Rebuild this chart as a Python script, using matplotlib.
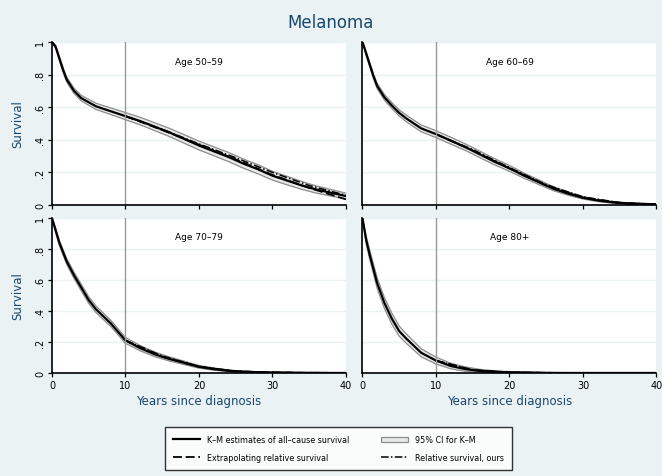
import numpy as np
import matplotlib
matplotlib.use("Agg")
import matplotlib.pyplot as plt
from matplotlib.lines import Line2D
from matplotlib.patches import Patch

BG = "#eaf2f3"
NAVY = "#1a476f"

# --- data ------------------------------------------------------------------
titles = ["Age 50\u201359", "Age 60\u201369", "Age 70\u201379", "Age 80+"]

t_km = [0, 0.5, 1, 1.5, 2, 3, 4, 5, 6, 8, 10, 12, 14, 16, 18, 20,
        22, 24, 26, 28, 30, 32, 34, 36, 38, 40]
km = [
    [1, 0.97, 0.90, 0.83, 0.77, 0.70, 0.655, 0.63, 0.605, 0.575, 0.545, 0.515,
     0.48, 0.445, 0.405, 0.365, 0.33, 0.295, 0.255, 0.22, 0.18, 0.15, 0.12,
     0.095, 0.075, 0.055],
    [1, 0.93, 0.86, 0.79, 0.73, 0.66, 0.61, 0.565, 0.53, 0.47, 0.435, 0.395,
     0.355, 0.31, 0.265, 0.225, 0.18, 0.14, 0.10, 0.07, 0.045, 0.028, 0.017,
     0.01, 0.007, 0.005],
    [1, 0.92, 0.84, 0.78, 0.72, 0.63, 0.55, 0.47, 0.41, 0.32, 0.21, 0.16,
     0.12, 0.09, 0.065, 0.04, 0.025, 0.014, 0.008, 0.005, 0.003, 0.002,
     0.001, 0.001, 0.0, 0.0],
    [1, 0.86, 0.76, 0.67, 0.58, 0.45, 0.35, 0.27, 0.22, 0.13, 0.08, 0.045,
     0.025, 0.013, 0.007, 0.004, 0.002, 0.001, 0.0, 0.0, 0.0, 0.0, 0.0,
     0.0, 0.0, 0.0],
]
# half width of the 95% CI band
ci_half = [
    [0, 0.01, 0.012, 0.015, 0.015, 0.016, 0.017, 0.018, 0.019, 0.02, 0.022,
     0.023, 0.024, 0.025, 0.026, 0.027, 0.027, 0.028, 0.028, 0.028, 0.027,
     0.026, 0.024, 0.022, 0.02, 0.018],
    [0, 0.012, 0.014, 0.015, 0.016, 0.017, 0.018, 0.019, 0.02, 0.021, 0.021,
     0.021, 0.02, 0.02, 0.019, 0.018, 0.016, 0.014, 0.012, 0.01, 0.008,
     0.006, 0.005, 0.004, 0.003, 0.003],
    [0, 0.015, 0.017, 0.018, 0.019, 0.02, 0.021, 0.021, 0.021, 0.02, 0.019,
     0.017, 0.015, 0.013, 0.011, 0.009, 0.007, 0.005, 0.004, 0.003, 0.002,
     0.002, 0.001, 0.001, 0.001, 0.001],
    [0, 0.025, 0.03, 0.032, 0.034, 0.035, 0.035, 0.033, 0.03, 0.026, 0.022,
     0.018, 0.014, 0.01, 0.007, 0.005, 0.004, 0.003, 0.002, 0.001, 0.001,
     0.001, 0.001, 0.001, 0.001, 0.001],
]
# extrapolated relative survival (dashed) and relative survival, ours (dash-dot)
t_ext = [10, 15, 20, 25, 30, 35, 40]
extrap = [
    [0.545, 0.46, 0.37, 0.28, 0.185, 0.105, 0.035],
    [0.435, 0.335, 0.225, 0.12, 0.045, 0.012, 0.003],
    [0.21, 0.105, 0.04, 0.01, 0.003, 0.001, 0.0],
    [0.08, 0.018, 0.004, 0.001, 0.0, 0.0, 0.0],
]
ours = [
    [0.545, 0.465, 0.375, 0.29, 0.2, 0.12, 0.06],
    [0.435, 0.34, 0.23, 0.125, 0.05, 0.015, 0.005],
    [0.21, 0.11, 0.042, 0.012, 0.004, 0.001, 0.0],
    [0.08, 0.02, 0.005, 0.001, 0.0, 0.0, 0.0],
]

xticks = [0, 10, 20, 30, 40]
yticks = [0, 0.2, 0.4, 0.6, 0.8, 1.0]
ytlabels = ["0", ".2", ".4", ".6", ".8", "1"]

# --- figure -----------------------------------------------------------------
fig = plt.figure(figsize=(6.62, 4.77), dpi=100, facecolor=BG)
fig.text(0.5, 0.952, "Melanoma", ha="center", va="center", fontsize=12,
         color=NAVY)

pos = [[0.0785, 0.568, 0.4441, 0.342], [0.5475, 0.568, 0.4441, 0.342],
       [0.0785, 0.216, 0.4441, 0.325], [0.5475, 0.216, 0.4441, 0.325]]

DASH = (0, (5, 2))
DASHDOT = (0, (5, 1.5, 1, 1.5))

t = np.array(t_km)
for i in range(4):
    ax = fig.add_axes(pos[i])
    ax.set_facecolor("white")
    s = np.array(km[i]); h = np.array(ci_half[i])
    lo = np.clip(s - h, 0, 1); hi = np.clip(s + h, 0, 1)
    ax.fill_between(t, lo, hi, color="#e8e8e8", lw=0)
    ax.plot(t, lo, color="0.55", lw=0.9)
    ax.plot(t, hi, color="0.55", lw=0.9)
    ax.plot(t, s, color="black", lw=1.6)
    ax.plot(t_ext, extrap[i], color="black", lw=1.3, ls=DASH)
    ax.plot(t_ext, ours[i], color="black", lw=1.1, ls=DASHDOT)
    ax.axvline(10, color="0.6", lw=1)
    for y in yticks[1:]:
        ax.axhline(y, color=BG, lw=1, zorder=0)
    ax.set_xlim(0, 40); ax.set_ylim(0, 1)
    for sp in ["top", "right"]:
        ax.spines[sp].set_visible(False)
    ax.spines["left"].set_linewidth(1.2); ax.spines["bottom"].set_linewidth(1.2)
    ax.set_xticks(xticks)
    ax.tick_params(axis="both", direction="out", length=3, width=0.9,
                   labelsize=7, pad=2)
    ax.text(0.5, 0.88, titles[i], transform=ax.transAxes, ha="center",
            va="center", fontsize=6.5)
    if i % 2 == 0:
        ax.set_yticks(yticks)
        ax.set_yticklabels(ytlabels, rotation=90, va="center")
        ax.set_ylabel("Survival", color=NAVY, fontsize=8.5, labelpad=8)
    else:
        ax.set_yticks([])
    if i < 2:
        ax.set_xticklabels([])
    else:
        ax.set_xlabel("Years since diagnosis", color=NAVY, fontsize=8.5,
                      labelpad=3)

# column-wise fill: col 1 = K-M / extrapolating, col 2 = CI / ours
handles = [Line2D([], [], color="black", lw=1.6),
           Line2D([], [], color="black", lw=1.3, ls=DASH),
           Patch(facecolor="#e8e8e8", edgecolor="0.55", lw=0.9),
           Line2D([], [], color="black", lw=1.1, ls=DASHDOT)]
labels = ["K\u2013M estimates of all\u2013cause survival",
          "Extrapolating relative survival",
          "95% CI for K\u2013M", "Relative survival, ours"]
leg = fig.legend(handles, labels, ncol=2, loc="lower center",
                 bbox_to_anchor=(0.511, 0.004), fontsize=5.8, frameon=True,
                 fancybox=False, edgecolor="black", handlelength=3.4,
                 columnspacing=4.0, borderpad=1.0, labelspacing=1.1)
leg.get_frame().set_linewidth(1.0)

fig.savefig("out.png", dpi=100, facecolor=BG)
